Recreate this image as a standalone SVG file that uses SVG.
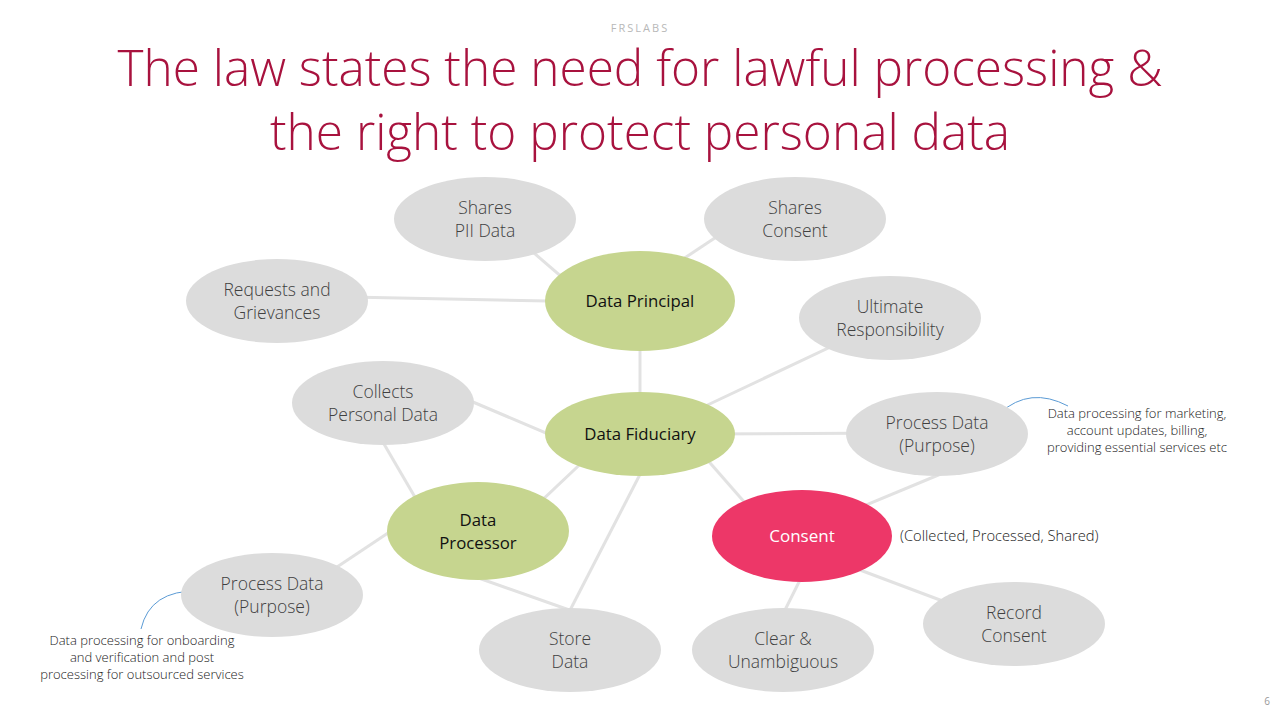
<svg xmlns="http://www.w3.org/2000/svg" width="1280" height="720" viewBox="0 0 1280 720">
<style>
.g{fill:#dcdcdc}
.gr{fill:#c6d58f}
.pk{fill:#ed3768}
.t{font-family:"Open Sans","Liberation Sans",sans-serif;font-weight:300;font-size:17.5px;fill:#404040;text-anchor:middle}
.tb{font-family:"Open Sans","Liberation Sans",sans-serif;font-weight:400;font-size:16.8px;fill:#111;text-anchor:middle}
.tw{font-family:"Open Sans","Liberation Sans",sans-serif;font-weight:400;font-size:17px;fill:#fff;text-anchor:middle}
.n{font-family:"Open Sans","Liberation Sans",sans-serif;font-weight:300;font-size:13px;fill:#222;text-anchor:middle}
.c line{stroke:#e2e2e2;stroke-width:3}
.cb{fill:none;stroke:#5b9bd5;stroke-width:1}
</style>
<rect width="1280" height="720" fill="#fff"/>
<text x="640" y="32" font-family="Open Sans, Liberation Sans, sans-serif" font-size="11" letter-spacing="2" fill="#b8b8b8" text-anchor="middle">FRSLABS</text>
<g id="title" font-family="Open Sans, Liberation Sans, sans-serif" font-weight="300" font-size="50" fill="#a8123e" text-anchor="middle">
<text x="640" y="86" textLength="1045" lengthAdjust="spacingAndGlyphs">The law states the need for lawful processing &amp;</text>
<text x="640" y="150" textLength="740" lengthAdjust="spacingAndGlyphs">the right to protect personal data</text>
</g>
<g id="connectors" class="c">
<line x1="505" y1="228" x2="600" y2="310"/>
<line x1="650" y1="281" x2="760" y2="208"/>
<line x1="300" y1="296" x2="600" y2="302"/>
<line x1="640" y1="320" x2="640" y2="420"/>
<line x1="860" y1="333" x2="680" y2="418"/>
<line x1="440" y1="388" x2="600" y2="456"/>
<line x1="370" y1="420" x2="440" y2="540"/>
<line x1="610" y1="436" x2="500" y2="540"/>
<line x1="650" y1="455" x2="565" y2="620"/>
<line x1="470" y1="575" x2="575" y2="612"/>
<line x1="430" y1="505" x2="310" y2="585"/>
<line x1="700" y1="434" x2="900" y2="433"/>
<line x1="690" y1="440" x2="760" y2="520"/>
<line x1="960" y1="466" x2="830" y2="520"/>
<line x1="810" y1="560" x2="775" y2="630"/>
<line x1="820" y1="555" x2="980" y2="615"/>
<path class="cb" d="M1000 413 Q1030 386 1068 406"/>
<path class="cb" d="M198 591 Q150 590 141 629"/>
</g>
<g id="shares-pii"><ellipse class="g" cx="485" cy="219" rx="91" ry="42"/><text class="t" x="485" y="214">Shares</text><text class="t" x="485" y="237">PII Data</text></g>
<g id="shares-consent"><ellipse class="g" cx="795" cy="219" rx="91" ry="42"/><text class="t" x="795" y="214">Shares</text><text class="t" x="795" y="237">Consent</text></g>
<g id="requests"><ellipse class="g" cx="277" cy="301" rx="91" ry="42"/><text class="t" x="277" y="296">Requests and</text><text class="t" x="277" y="319">Grievances</text></g>
<g id="data-principal"><ellipse class="gr" cx="640" cy="301" rx="95" ry="50"/><text class="tb" x="640" y="307">Data Principal</text></g>
<g id="ultimate"><ellipse class="g" cx="890" cy="318" rx="91" ry="42"/><text class="t" x="890" y="313">Ultimate</text><text class="t" x="890" y="336">Responsibility</text></g>
<g id="collects"><ellipse class="g" cx="383" cy="403" rx="91" ry="42"/><text class="t" x="383" y="398">Collects</text><text class="t" x="383" y="421">Personal Data</text></g>
<g id="data-fiduciary"><ellipse class="gr" cx="640" cy="434" rx="95" ry="42"/><text class="tb" x="640" y="440">Data Fiduciary</text></g>
<g id="process-right"><ellipse class="g" cx="937" cy="434" rx="91" ry="42"/><text class="t" x="937" y="429">Process Data</text><text class="t" x="937" y="452">(Purpose)</text></g>
<g id="data-processor"><ellipse class="gr" cx="478" cy="531" rx="91" ry="49"/><text class="tb" x="478" y="526">Data</text><text class="tb" x="478" y="549">Processor</text></g>
<g id="consent"><ellipse class="pk" cx="802" cy="536" rx="90" ry="46"/><text class="tw" x="802" y="542">Consent</text></g>
<g id="process-left"><ellipse class="g" cx="272" cy="595" rx="91" ry="42"/><text class="t" x="272" y="590">Process Data</text><text class="t" x="272" y="613">(Purpose)</text></g>
<g id="store"><ellipse class="g" cx="570" cy="650" rx="91" ry="42"/><text class="t" x="570" y="645">Store</text><text class="t" x="570" y="668">Data</text></g>
<g id="clear"><ellipse class="g" cx="783" cy="650" rx="91" ry="42"/><text class="t" x="783" y="645">Clear &amp;</text><text class="t" x="783" y="668">Unambiguous</text></g>
<g id="record"><ellipse class="g" cx="1014" cy="624" rx="91" ry="42"/><text class="t" x="1014" y="619">Record</text><text class="t" x="1014" y="642">Consent</text></g>
<text x="900" y="541" font-family="Open Sans, Liberation Sans, sans-serif" font-weight="300" font-size="14.7" fill="#222">(Collected, Processed, Shared)</text>
<g id="note-right"><text class="n" x="1137" y="418">Data processing for marketing,</text><text class="n" x="1137" y="435">account updates, billing,</text><text class="n" x="1137" y="452">providing essential services etc</text></g>
<g id="note-left"><text class="n" x="142" y="645">Data processing for onboarding</text><text class="n" x="142" y="662">and verification and post</text><text class="n" x="142" y="679">processing for outsourced services</text></g>
<text x="1267" y="705" font-family="Open Sans, Liberation Sans, sans-serif" font-size="10" fill="#999" text-anchor="middle">6</text>
</svg>
